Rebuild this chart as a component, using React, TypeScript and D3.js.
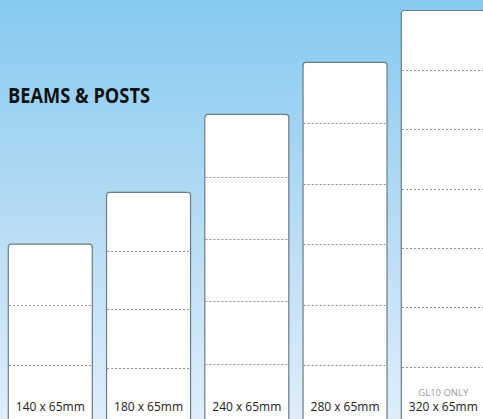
import React from 'react';
import * as d3 from 'd3';

// beam depths (mm) and number of laminations drawn in each section
const depths = [140, 180, 240, 280, 320];
const laminations = [3, 4, 5, 6, 7];
const sizeLabels = ['140 x 65mm', '180 x 65mm', '240 x 65mm', '280 x 65mm', '320 x 65mm'];
const notes = ['', '', '', '', 'GL10 ONLY'];
const title = 'BEAMS & POSTS';

const W = 483;
const H = 419;

const App = () => {
  // bars run past the bottom edge of the picture
  const yScale = d3.scaleLinear().domain([0, 320]).range([426, 10.5]);
  const xScale = d3
    .scaleBand<string>()
    .domain(sizeLabels)
    .range([8.3, 485.3])
    .paddingInner(0.145)
    .paddingOuter(0);
  const bw = xScale.bandwidth();
  const r = 3;

  // rectangle with rounded top corners
  const barPath = (x: number, top: number, bottom: number) =>
    `M${x},${bottom} V${top + r} Q${x},${top} ${x + r},${top} H${x + bw - r} Q${x + bw},${top} ${x + bw},${top + r} V${bottom}`;

  return (
    <svg
      width={W}
      height={H}
      style={{ position: 'absolute', left: 0, top: 0, display: 'block' }}
    >
      <defs>
        <linearGradient id="sky" x1="0" y1="0" x2="0" y2="1">
          <stop offset="0%" stopColor="#86caf0" />
          <stop offset="50%" stopColor="#b4dbf4" />
          <stop offset="100%" stopColor="#dfeefa" />
        </linearGradient>
      </defs>
      <rect x={0} y={0} width={W} height={H} fill="url(#sky)" />

      <text
        x={8}
        y={103}
        fontFamily="'Open Sans', sans-serif"
        fontWeight="bold"
        fontSize={21.5}
        fill="#111"
        textLength={142}
        lengthAdjust="spacingAndGlyphs"
      >
        {title}
      </text>

      {depths.map((d, i) => {
        const x = xScale(sizeLabels[i]) as number;
        const top = yScale(d);
        const bottom = yScale(0) + 2;
        const n = laminations[i];
        const lines = d3.range(1, n).map((k) => yScale((d * k) / n));
        return (
          <g key={sizeLabels[i]}>
            <path
              d={barPath(x, top, bottom) + ' Z'}
              fill="#fff"
              stroke="#6d7b84"
              strokeWidth={1.2}
            />
            {lines.map((ly, k) => (
              <line
                key={k}
                x1={x + 0.6}
                x2={x + bw - 0.6}
                y1={Math.round(ly) + 0.5}
                y2={Math.round(ly) + 0.5}
                stroke="#8a8f94"
                strokeWidth={1}
                strokeDasharray="2,2"
              />
            ))}
            <text
              x={x + bw / 2}
              y={411}
              textAnchor="middle"
              fontFamily="'Open Sans', sans-serif"
              fontSize={12}
              fill="#222"
            >
              {sizeLabels[i]}
            </text>
            {notes[i] && (
              <text
                x={x + bw / 2}
                y={395.5}
                textAnchor="middle"
                fontFamily="'Open Sans', sans-serif"
                fontSize={9.5}
                fill="#9a9a9a"
              >
                {notes[i]}
              </text>
            )}
          </g>
        );
      })}
    </svg>
  );
};

export default App;
